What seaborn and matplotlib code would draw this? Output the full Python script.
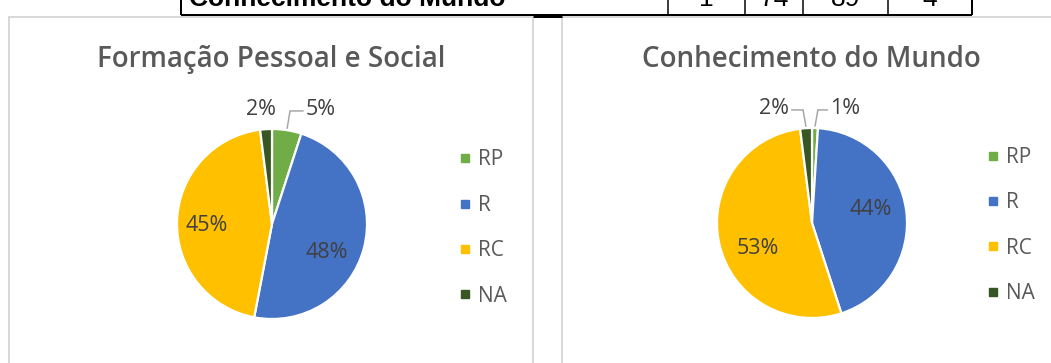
import matplotlib
matplotlib.use("Agg")
import matplotlib.pyplot as plt
from matplotlib.lines import Line2D
from matplotlib.patches import Rectangle
import numpy as np
import seaborn as sns

# ---- data ---------------------------------------------------------------
categories = ["RP", "R", "RC", "NA"]
category_colors = ["#70AD47", "#4472C4", "#FFC000", "#375623"]

fps_title = "Formação Pessoal e Social"
fps_pct = [5, 48, 45, 2]

cdm_title = "Conhecimento do Mundo"
cdm_pct = [1, 44, 53, 2]

table_row_label = "Conhecimento do Mundo"
table_row_values = ["1", "74", "89", "4"]

# ---- figure setup -----------------------------------------------------------
W, H, DPI = 1051, 363, 100
PX = 72.0 / DPI          # points per pixel
R_PX = 95.0              # pie radius in pixels

sns.set_theme(style="white")
plt.rcParams["font.family"] = ["Open Sans", "DejaVu Sans"]
palette = sns.color_palette(category_colors)

fig = plt.figure(figsize=(W / DPI, H / DPI), dpi=DPI)
fig.patch.set_facecolor("white")

# pixel-space canvas for the table strip and panel frames
bg = fig.add_axes([0, 0, 1, 1])
bg.set_xlim(0, W)
bg.set_ylim(H, 0)
bg.axis("off")

# table row (cut at the top edge)
col_edges = [181, 668, 745, 803, 888, 972]
bg.plot([col_edges[0], col_edges[-1]], [15, 15], color="black", lw=2 * PX,
        solid_capstyle="butt", zorder=1)
for xe in col_edges:
    bg.plot([xe, xe], [-2, 15], color="black", lw=(2 if xe in (181, 972) else 1.5) * PX,
            solid_capstyle="butt", zorder=1)
bg.text(189, 6.5, table_row_label, ha="left", va="baseline", fontsize=19,
        fontweight="bold", family="Liberation Sans", color="black", zorder=1)
for i, val in enumerate(table_row_values):
    xc = (col_edges[i + 1] + col_edges[i + 2]) / 2
    bg.text(xc, 6.5, val, ha="center", va="baseline", fontsize=19,
            family="Liberation Sans", color="black", zorder=1)

# chart panels
for x0, x1 in [(9, 533), (562, W + 20)]:
    bg.add_patch(Rectangle((x0, 16.5), x1 - x0, H, facecolor="white",
                           edgecolor="#D9D9D9", lw=2 * PX, zorder=2))
bg.plot([533, 562], [15.5, 15.5], color="black", lw=3 * PX,
        solid_capstyle="butt", zorder=3)

renderer = fig.canvas.get_renderer()


def draw_pie(values, title, cx, cy, title_x, legend_x, legend_y, small_dx, inner_shift):
    half = 130.0
    ax = fig.add_axes([(cx - half) / W, 1 - (cy + half) / H, 2 * half / W, 2 * half / H])
    ax.set_zorder(5)
    ax.patch.set_alpha(0)
    wedges, _ = ax.pie(values, colors=palette, startangle=90, counterclock=False,
                       radius=1.0, wedgeprops=dict(edgecolor="white", linewidth=1.6))
    lim = half / R_PX
    ax.set_xlim(-lim, lim)
    ax.set_ylim(-lim, lim)
    ax.set_aspect("equal", adjustable="box")
    ax.axis("off")

    for cat, w, v in zip(categories, wedges, values):
        mid = np.deg2rad((w.theta1 + w.theta2) / 2)
        label = f"{v}%"
        if v >= 10:
            sx, sy = inner_shift.get(cat, (0, 0))
            ax.text(0.66 * np.cos(mid) + sx / R_PX, 0.66 * np.sin(mid) - sy / R_PX, label,
                    ha="center", va="center", fontsize=15.5, color="#404040", clip_on=False)
        else:
            axx, axy = 1.02 * np.cos(mid), 1.02 * np.sin(mid)
            dx = small_dx[cat]
            tx = np.cos(mid) + dx
            t = ax.text(tx, 1.205, label, ha="center", va="center", fontsize=15.5,
                        color="#404040", clip_on=False)
            hw = t.get_window_extent(renderer).width / 2 / R_PX
            if abs(dx) > hw:
                side = np.sign(dx)
                ax.plot([axx, axx + side * 0.03, tx - side * (hw + 0.03)],
                        [axy, 1.19, 1.19], color="#A6A6A6", lw=1.5 * PX,
                        clip_on=False, solid_joinstyle="miter")

    bg.text(title_x, 59.5, title, ha="center", va="center", fontsize=20,
            fontweight=600, color="#595959", zorder=4)

    handles = [Line2D([0], [0], marker="s", linestyle="", markersize=8.5 * PX,
                      markerfacecolor=c, markeredgecolor=c) for c in palette]
    fs = 15
    fs_px = fs / PX
    hl = 0.45
    leg = fig.legend(handles, categories, loc="center left",
                     bbox_to_anchor=((legend_x - hl * fs_px / 2) / W, 1 - legend_y / H),
                     bbox_transform=fig.transFigure, frameon=False, fontsize=fs,
                     handlelength=hl, handletextpad=0.38, labelspacing=1.17,
                     borderpad=0, borderaxespad=0)
    for txt in leg.get_texts():
        txt.set_color("#595959")
    leg.set_zorder(6)


draw_pie(fps_pct, fps_title, cx=272, cy=224, title_x=271.5,
         legend_x=465, legend_y=228, small_dx={"RP": 0.36, "NA": -0.05},
         inner_shift={"R": (-6, 13), "RC": (-3, 3)})
draw_pie(cdm_pct, cdm_title, cx=812, cy=223, title_x=811.5,
         legend_x=993, legend_y=225.5, small_dx={"RP": 0.32, "NA": -0.34},
         inner_shift={"R": (-4, -6), "RC": (7, 12)})

fig.savefig("out.png", dpi=DPI, facecolor="white")
